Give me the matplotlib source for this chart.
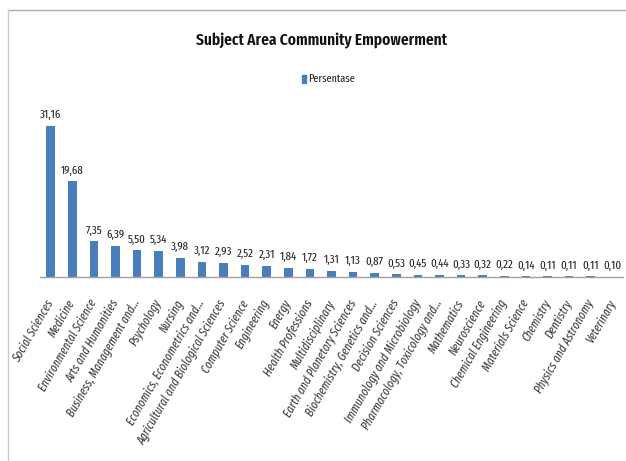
import matplotlib
matplotlib.use("Agg")
import matplotlib.pyplot as plt
from matplotlib.lines import Line2D
from matplotlib.patches import Rectangle

FONT = ['Fira Sans Extra Condensed', 'DejaVu Sans']

categories = ["Social Sciences", "Medicine", "Environmental Science", "Arts and Humanities",
              "Business, Management and...", "Psychology", "Nursing",
              "Economics, Econometrics and...", "Agricultural and Biological Sciences",
              "Computer Science", "Engineering", "Energy", "Health Professions",
              "Multidisciplinary", "Earth and Planetary Sciences", "Biochemistry, Genetics and...",
              "Decision Sciences", "Immunology and Microbiology", "Pharmacology, Toxicology and...",
              "Mathematics", "Neuroscience", "Chemical Engineering", "Materials Science",
              "Chemistry", "Dentistry", "Physics and Astronomy", "Veterinary"]
values = [31.16, 19.68, 7.35, 6.39, 5.50, 5.34, 3.98, 3.12, 2.93, 2.52, 2.31, 1.84, 1.72,
          1.31, 1.13, 0.87, 0.53, 0.45, 0.44, 0.33, 0.32, 0.22, 0.14, 0.11, 0.11, 0.11, 0.10]
series_name = "Persentase"
title = "Subject Area Community Empowerment"

bar_color = "#4a7ebb"

fig = plt.figure(figsize=(6.26, 4.61), dpi=100)
ax = fig.add_axes([40/626, 1-277/461, 583/626, 170/461])
x = list(range(len(values)))
ax.bar(x, values, width=0.4, color=bar_color, zorder=2)
ax.set_xlim(-0.5, len(values) - 0.5)
ax.set_ylim(0, 35)
for xi, v in zip(x, values):
    ax.annotate(f"{v:.2f}".replace('.', ','), (xi, v), xytext=(0, 4),
                textcoords='offset points', ha='center', va='bottom',
                fontsize=8.5, family=FONT, color='#222222', annotation_clip=False)

ax.set_xticks(x)
ax.set_xticklabels(categories, rotation=60, ha='right', va='center', rotation_mode='anchor',
                   fontsize=8.8, family=FONT, style='italic', color='#3a3a3a')
ax.tick_params(axis='x', length=0, pad=17)
ax.set_yticks([])
for s in ['top', 'right', 'left']:
    ax.spines[s].set_visible(False)
ax.spines['bottom'].set_color('#a0a0a0')
ax.spines['bottom'].set_linewidth(1.0)

fig.text(321/626, 1-41/461, title, ha='center', va='center', fontsize=12, family=FONT,
         weight='semibold', color='#111111')
# legend
fig.patches.append(Rectangle((302/626, 1-83/461), 4/626, 8/461, transform=fig.transFigure,
                             color=bar_color, figure=fig))
fig.text(308/626, 1-79/461, series_name, ha='left', va='center', fontsize=8,
         family=FONT, color='#222222')

# outer frame (top and left)
fig.add_artist(Line2D([8/626, 1], [1-10/461, 1-10/461], transform=fig.transFigure,
                      color='#aaaaaa', lw=1))
fig.add_artist(Line2D([8/626, 8/626], [0, 1-10/461], transform=fig.transFigure,
                      color='#cccccc', lw=1))

fig.savefig("out.png", dpi=100)
